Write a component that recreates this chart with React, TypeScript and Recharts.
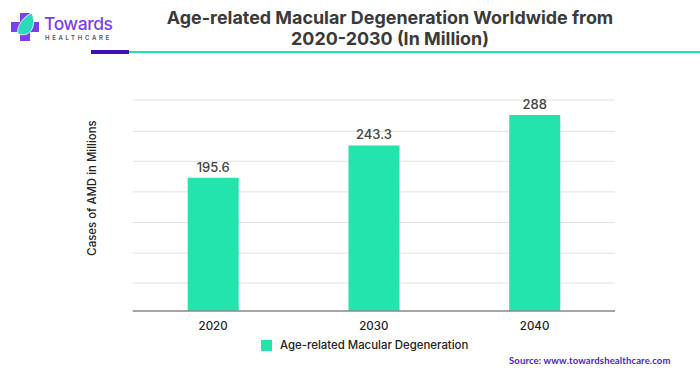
import React from 'react';
import { BarChart, Bar, XAxis, YAxis, CartesianGrid, LabelList, Legend } from 'recharts';

const years = ['2020', '2030', '2040'];
const cases = [195.6, 243.3, 288];
const gridTicks = [0, 41, 85, 130, 175, 220, 264, 310];
const seriesName = 'Age-related Macular Degeneration';
const yTitle = 'Cases of AMD in Millions';
const GREEN = '#24e4ad';
const FONT = 'Inter, "Liberation Sans", sans-serif';

const chartData = years.map((year, i) => ({ year, cases: cases[i] }));

const Logo = () => (
  <svg width={125} height={48} style={{ position: 'absolute', left: 0, top: 0 }}>
    <path d="M20 13h10v9h9v10h-9v9H20v-9h-9V22h9z" fill="#7b3ff2" />
    <path d="M32 13c3 8 2 18-5 21-3 1-7 1-9 0-2-8 6-18 14-21z" fill="#2bd9bb" stroke="#fff" strokeWidth={0.8} />
    <text x={44} y={30} fontFamily={FONT} fontSize={17.5} fontWeight={500} letterSpacing={-0.4} fill="#7b3ff2">Towards</text>
    <text x={45} y={40} fontFamily={FONT} fontSize={6} fontWeight={600} letterSpacing={2.7} fill="#555">HEALTHCARE</text>
  </svg>
);

const LegendContent = () => (
  <div style={{ display: 'flex', alignItems: 'center', fontFamily: FONT, fontSize: 11.4, fontWeight: 500, color: '#222' }}>
    <span style={{ width: 11, height: 11, background: GREEN, marginRight: 8 }} />
    {seriesName}
  </div>
);

const YTitle = () => (
  <text
    x={92}
    y={188}
    transform="rotate(-90 92 188)"
    textAnchor="middle"
    dominantBaseline="central"
    fontFamily={FONT}
    fontSize={11.4}
    fontWeight={500}
    fill="#222"
  >
    {yTitle}
  </text>
);

export default function App() {
  return (
    <div style={{ position: 'fixed', left: 0, top: 0, width: 700, height: 376, background: '#fff', overflow: 'hidden' }}>
      <Logo />
      <div style={{ position: 'absolute', left: 130, width: 520, top: 7, textAlign: 'center', fontFamily: FONT, fontSize: 17.9, fontWeight: 700, lineHeight: '21px', color: '#3a3a3a' }}>
        Age-related Macular Degeneration Worldwide from<br />2020-2030 (In Million)
      </div>
      <div style={{ position: 'absolute', left: 91, top: 50, width: 38, height: 4, background: '#3f12b8' }} />
      <div style={{ position: 'absolute', left: 129, top: 51, width: 571, height: 2, background: GREEN }} />
      <BarChart
        width={700}
        height={376}
        data={chartData}
        margin={{ top: 100, right: 85, bottom: 0, left: 92 }}
        style={{ position: 'absolute', left: 0, top: 0 }}
      >
        <CartesianGrid vertical={false} stroke="#e2e2e2" strokeWidth={1} />
        <XAxis
          dataKey="year"
          height={51}
          axisLine={{ stroke: '#8c8c8c', strokeWidth: 1.5 }}
          tickLine={false}
          tick={{ fill: '#222', fontSize: 11.5, fontWeight: 500, fontFamily: FONT }}
          tickMargin={5}
        />
        <YAxis
          width={40.7}
          domain={[0, 310]}
          ticks={gridTicks}
          interval={0}
          tick={() => <g />}
          axisLine={false}
          tickLine={false}
          label={<YTitle />}
        />
        <Legend content={<LegendContent />} wrapperStyle={{ position: 'absolute', left: 261, top: 338, width: 240, bottom: 'auto' }} />
        <Bar dataKey="cases" name={seriesName} fill={GREEN} barSize={51} isAnimationActive={false}>
          <LabelList dataKey="cases" position="top" offset={6} fill="#444" fontSize={13} fontWeight={500} fontFamily={FONT} />
        </Bar>
      </BarChart>
      <div style={{ position: 'absolute', left: 509, top: 355, fontFamily: 'Lato, sans-serif', fontSize: 9.5, fontWeight: 700, color: '#4a1fc4', letterSpacing: 0.13, whiteSpace: 'nowrap' }}>
        Source: www.towardshealthcare.com
      </div>
    </div>
  );
}
